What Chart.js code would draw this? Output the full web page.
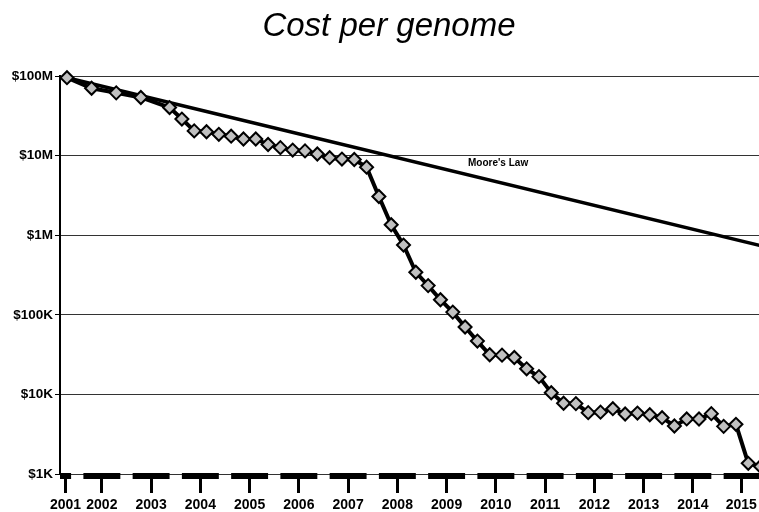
<!DOCTYPE html>
<html><head><meta charset="utf-8">
<script src="https://cdn.jsdelivr.net/npm/chart.js@4"></script>
<style>html,body{margin:0;padding:0;background:#fff}#wrap{width:759px;height:512px;position:relative}</style>
</head><body><div id="wrap"><canvas id="c"></canvas></div>
<script>
// ---- data ----
const dates = ['2001-09','2002-03','2002-09','2003-03','2003-10','2004-01','2004-04','2004-07','2004-10',
  '2005-01','2005-04','2005-07','2005-10','2006-01','2006-04','2006-07','2006-10','2007-01','2007-04','2007-07','2007-10',
  '2008-01','2008-04','2008-07','2008-10','2009-01','2009-04','2009-07','2009-10','2010-01','2010-04','2010-07','2010-10',
  '2011-01','2011-04','2011-07','2011-10','2012-01','2012-04','2012-07','2012-10','2013-01','2013-04','2013-07','2013-10',
  '2014-01','2014-04','2014-07','2014-10','2015-01','2015-04','2015-07','2015-10'];
const costs = [95263072,70175437,61448422,53751684,40157554,28780376,20442576,19934346,18519312,
  17534970,16159699,16180224,13801124,12585659,11732535,11455315,10474556,9408739,9047003,8927342,7147571,
  3063820,1352982,752080,342502,232735,154714,108065,70333,46774,31512,31125,29092,
  20963,16712,10497,7743,7666,5901,5985,6618,5671,5826,5550,5096,
  4008,4920,4905,5731,3970,4211,1363,1245];
const mooreDates = ['2001-09','2015-10'];
const mooreCosts = [95263072, 740000];
const yearLabels = ['2001','2002','2003','2004','2005','2006','2007','2008','2009','2010','2011','2012','2013','2014','2015'];
const yTickValues = [1e3,1e4,1e5,1e6,1e7,1e8];
const yTickLabels = ['$1K','$10K','$100K','$1M','$10M','$100M'];
const titleText = 'Cost per genome';

const toYear = s => { const [y,m] = s.split('-').map(Number); return y + (m-1)/12; };
const X_MIN = 2001.525, X_MAX = 2015.718, BAR_SPAN = 0.75;
const FONT = '"Liberation Sans", Arial, sans-serif';

const barPlugin = {
  id: 'yearBars',
  afterDraw(chart) {
    const {ctx, chartArea, scales:{x, y}} = chart;
    const o = chart.options.plugins.yearBars;
    ctx.save();
    ctx.fillStyle = '#000';
    yearLabels.forEach(l => {
      const y0 = Math.max(+l, x.min), y1 = Math.min(+l + BAR_SPAN, x.max);
      if (y1 <= y0) return;
      const p0 = x.getPixelForValue(y0), p1 = x.getPixelForValue(y1);
      ctx.fillRect(p0, chartArea.bottom - 1, p1 - p0, 6);
    });
    // Moore's Law label
    ctx.font = 'bold 10px ' + FONT;
    ctx.textAlign = 'center'; ctx.textBaseline = 'middle';
    ctx.fillText(o.label, x.getPixelForValue(o.lx), y.getPixelForValue(o.ly));
    // title
    ctx.font = 'italic 33px ' + FONT;
    ctx.textAlign = 'center'; ctx.textBaseline = 'alphabetic';
    ctx.fillText(titleText, o.titleX, o.titleBaseline);
    ctx.restore();
  }
};

new Chart(document.getElementById('c'), {
  type: 'line',
  data: {
    datasets: [
      { label: 'Cost per genome', data: dates.map((d,i)=>({x: toYear(d), y: costs[i]})),
        borderColor: '#000', borderWidth: 4, pointStyle: 'rectRot', pointRadius: 6.5,
        pointBackgroundColor: '#c0c0c0', pointBorderColor: '#000', pointBorderWidth: 2, clip: false, tension: 0 },
      { label: "Moore's Law", data: mooreDates.map((d,i)=>({x: toYear(d), y: mooreCosts[i]})),
        borderColor: '#000', borderWidth: 3.5, pointRadius: 0, tension: 0 }
    ]
  },
  options: {
    responsive: true, maintainAspectRatio: false, animation: false,
    layout: { autoPadding: false, padding: { left: 0, right: 0, top: 76, bottom: 0 } },
    plugins: {
      legend: { display: false }, tooltip: { enabled: false }, title: { display: false },
      yearBars: { label: "Moore's Law", lx: 2010.42, ly: 8.1e6, titleX: 389, titleBaseline: 36 }
    },
    scales: {
      x: { type: 'linear', min: X_MIN, max: X_MAX,
        afterFit(s) { s.height = 38; s.paddingLeft = 0; s.paddingRight = 0; },
        afterBuildTicks(s) {
          s.ticks = yearLabels.map(l => ({ value: (Math.max(+l, s.min) + Math.min(+l + BAR_SPAN, s.max)) / 2 }));
        },
        ticks: { autoSkip: false, maxRotation: 0, padding: 4, color: '#000',
          font: { family: FONT, size: 14, weight: 'bold' },
          callback: (v, i) => yearLabels[i] },
        grid: { drawOnChartArea: false, drawTicks: true, tickLength: 19, tickWidth: 3, tickColor: '#000' },
        border: { display: false }
      },
      y: { type: 'logarithmic', min: 1e3, max: 1e8,
        afterFit(s) { s.width = 60; s.paddingTop = 0; s.paddingBottom = 0; },
        afterBuildTicks(s) { s.ticks = yTickValues.map(v => ({ value: v })); },
        ticks: { autoSkip: false, padding: 2, color: '#000',
          font: { family: FONT, size: 13.5, weight: 'bold' },
          callback: (v, i) => yTickLabels[i] },
        grid: { color: '#333', lineWidth: 1, drawTicks: true, tickLength: 5, tickColor: '#000' },
        border: { display: true, color: '#000', width: 2 }
      }
    }
  },
  plugins: [barPlugin]
});
</script></body></html>
